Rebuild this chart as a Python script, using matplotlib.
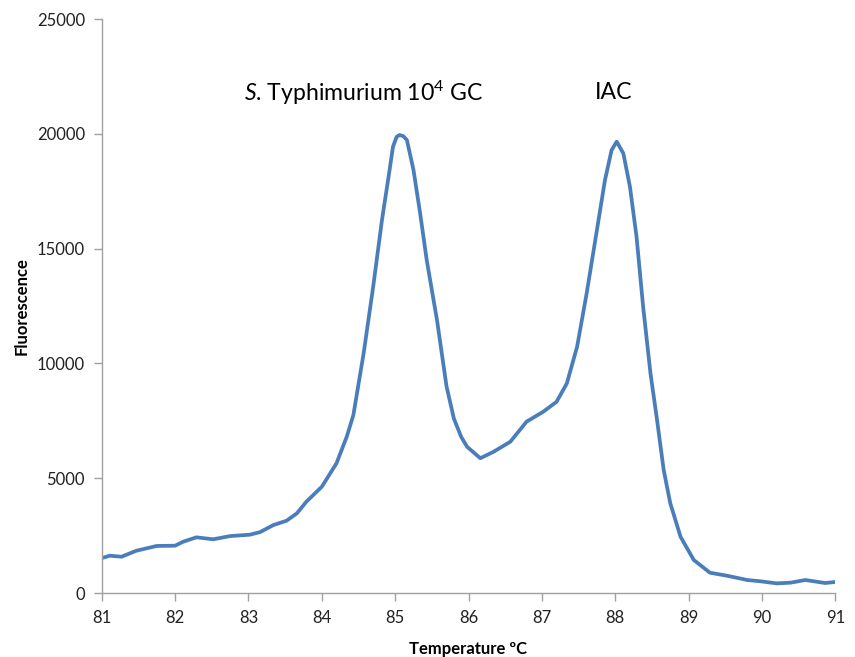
import matplotlib.pyplot as plt

plt.rcParams['font.family'] = ['Lato', 'DejaVu Sans']
plt.rcParams['mathtext.fontset'] = 'custom'
plt.rcParams['mathtext.rm'] = 'Lato'
plt.rcParams['mathtext.it'] = 'Lato:italic'

# melt curve, temperature (C) vs fluorescence
temperature = [81.00, 81.11, 81.27, 81.47, 81.75, 82.00, 82.11, 82.29, 82.52, 82.75,
               83.02, 83.16, 83.34, 83.52, 83.66, 83.79, 84.00, 84.20, 84.34, 84.43,
               84.57, 84.70, 84.82, 84.91, 84.97, 85.02, 85.06, 85.11, 85.16, 85.25,
               85.34, 85.43, 85.57, 85.70, 85.80, 85.90, 85.98, 86.16, 86.34, 86.57,
               86.79, 87.02, 87.20, 87.34, 87.48, 87.61, 87.75, 87.86, 87.95, 88.02,
               88.11, 88.20, 88.29, 88.38, 88.48, 88.57, 88.66, 88.75, 88.89, 89.07,
               89.29, 89.52, 89.80, 89.98, 90.20, 90.39, 90.59, 90.75, 90.86, 91.00]
fluorescence = [1520, 1625, 1580, 1840, 2050, 2060, 2235, 2425, 2340, 2480,
                2540, 2655, 2960, 3150, 3470, 3980, 4630, 5650, 6810, 7750,
                10440, 13340, 16250, 18130, 19440, 19870, 19950, 19900, 19730, 18420,
                16540, 14500, 11890, 9000, 7600, 6800, 6370, 5870, 6150, 6590,
                7460, 7900, 8330, 9130, 10730, 13050, 15810, 17990, 19290, 19660,
                19150, 17700, 15520, 12470, 9570, 7530, 5360, 3910, 2450, 1440,
                885, 755, 566, 510, 420, 450, 566, 490, 435, 480]

x_ticks = list(range(81, 92))
y_ticks = [0, 5000, 10000, 15000, 20000, 25000]

fig = plt.figure(figsize=(8.55, 6.57), dpi=100)
ax = fig.add_axes([0.119, 0.0974, 0.858, 0.8736])

ax.plot(temperature, fluorescence, color='#4a7ebb', linewidth=2.7,
        solid_capstyle='round', solid_joinstyle='round')

ax.set_xlim(81, 91)
ax.set_ylim(0, 25000)
ax.set_xticks(x_ticks)
ax.set_yticks(y_ticks)
ax.tick_params(axis='both', direction='out', length=6, width=1, color='#a0a0a0',
               labelsize=12, labelcolor='#222222', pad=6)
for side in ['top', 'right']:
    ax.spines[side].set_visible(False)
for side in ['left', 'bottom']:
    ax.spines[side].set_color('#a0a0a0')
    ax.spines[side].set_linewidth(1)

ax.set_xlabel('Temperature ºC', fontsize=12, fontweight='bold', labelpad=11)
ax.set_ylabel('Fluorescence', fontsize=12, fontweight='bold', labelpad=5)

ax.text(84.57, 21800, r'$S$. Typhimurium 10$^{4}$ GC', fontsize=16.6, ha='center', va='center')
ax.text(87.98, 21800, 'IAC', fontsize=16.6, ha='center', va='center')

fig.savefig('out.png', dpi=100)
